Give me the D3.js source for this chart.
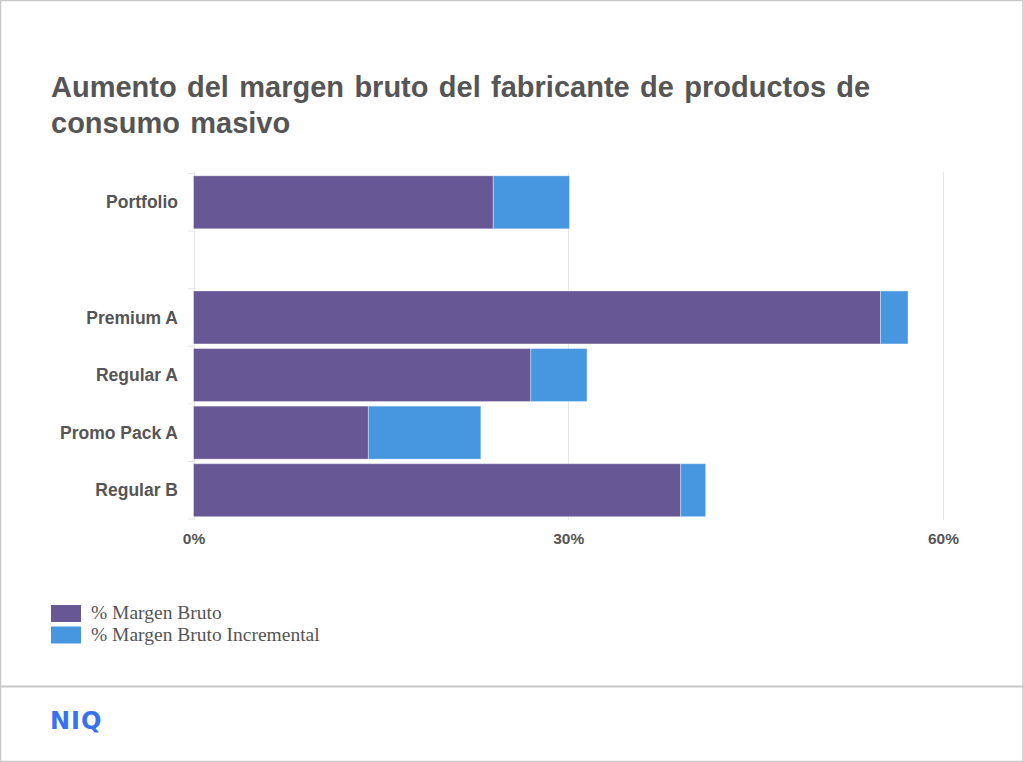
<!DOCTYPE html>
<html>
<head>
<meta charset="utf-8">
<script src="https://cdn.jsdelivr.net/npm/d3@7"></script>
<style>
  html, body { margin: 0; padding: 0; background: #fff; }
  svg { display: block; }
</style>
</head>
<body>
<svg id="chart" width="1024" height="762"></svg>
<script>
const title = ["Aumento del margen bruto del fabricante de productos de", "consumo masivo"];
const categories = ["Portfolio", "", "Premium A", "Regular A", "Promo Pack A", "Regular B"];
const margenBruto = [24, null, 55, 27, 14, 39];
const margenIncremental = [6.1, null, 2.2, 4.5, 9, 2];
const seriesNames = ["% Margen Bruto", "% Margen Bruto Incremental"];
const seriesColors = ["#675794", "#4697e0"];
const xTicks = [0, 30, 60];

const svg = d3.select("#chart");
const W = 1024, H = 762;

// frame
svg.append("rect").attr("x", 0.5).attr("y", 0.5).attr("width", W - 1.5).attr("height", H - 1)
  .attr("fill", "#fff").attr("stroke", "#c8c8c8").attr("stroke-width", 1.5);
svg.append("line").attr("x1", 0).attr("x2", W).attr("y1", 686.5).attr("y2", 686.5)
  .attr("stroke", "#c8c8c8").attr("stroke-width", 2);

// title
const t = svg.append("text").attr("x", 51).attr("y", 97)
  .attr("font-family", "Liberation Sans, Arial, sans-serif")
  .attr("font-weight", "bold").attr("font-size", 29).attr("word-spacing", 2.3).attr("fill", "#555555");
title.forEach((line, i) => {
  t.append("tspan").attr("x", 51).attr("dy", i === 0 ? 0 : 36).text(line);
});

const x = d3.scaleLinear().domain([0, 60]).range([193.5, 943]);
const y = d3.scaleBand().domain(categories.map((c, i) => i)).range([173.5, 519]).paddingInner(0.08).paddingOuter(0.04);

// gridlines
svg.append("g").selectAll("line").data(xTicks).join("line")
  .attr("x1", d => Math.round(x(d)) + 0.5).attr("x2", d => Math.round(x(d)) + 0.5)
  .attr("y1", 172).attr("y2", 520)
  .attr("stroke", "#e6e6e6").attr("stroke-width", 1);

// small category ticks at band boundaries
const bounds = d3.range(categories.length + 1).map(i => 173.5 + i * y.step());
svg.append("g").selectAll("line").data(bounds).join("line")
  .attr("x1", 188).attr("x2", 194)
  .attr("y1", d => d).attr("y2", d => d)
  .attr("stroke", "#e6e6e6");

// bars
const rows = categories.map((c, i) => ({ i, c, a: margenBruto[i], b: margenIncremental[i] })).filter(d => d.a != null);
const g = svg.append("g");
g.selectAll("rect.a").data(rows).join("rect").attr("class", "a")
  .attr("x", x(0)).attr("y", d => y(d.i))
  .attr("width", d => x(d.a) - x(0)).attr("height", y.bandwidth())
  .attr("fill", seriesColors[0]).attr("stroke", "rgba(255,255,255,0.35)").attr("stroke-width", 1);
g.selectAll("rect.b").data(rows).join("rect").attr("class", "b")
  .attr("x", d => x(d.a)).attr("y", d => y(d.i))
  .attr("width", d => x(d.a + d.b) - x(d.a)).attr("height", y.bandwidth())
  .attr("fill", seriesColors[1]).attr("stroke", "rgba(255,255,255,0.35)").attr("stroke-width", 1);

// category labels
svg.append("g").selectAll("text").data(rows).join("text")
  .attr("x", 178).attr("y", d => y(d.i) + y.bandwidth() / 2)
  .attr("dy", "0.35em").attr("text-anchor", "end")
  .attr("font-family", "Liberation Sans, Arial, sans-serif").attr("font-weight", "bold")
  .attr("font-size", 17.5).attr("fill", "#555555")
  .text(d => d.c);

// x axis
const xAxis = svg.append("g").attr("transform", "translate(0,530)")
  .call(d3.axisBottom(x).tickValues(xTicks).tickFormat(d => d + "%").tickSize(0));
xAxis.select(".domain").remove();
xAxis.selectAll("text")
  .attr("font-family", "Liberation Sans, Arial, sans-serif").attr("font-weight", "bold")
  .attr("font-size", 15.5).attr("fill", "#555555").attr("dy", "0.71em").attr("y", 3);

// legend
const lg = svg.append("g");
seriesNames.forEach((name, i) => {
  lg.append("rect").attr("x", 51).attr("y", 605 + i * 21.5).attr("width", 30).attr("height", 17)
    .attr("fill", seriesColors[i]);
  lg.append("text").attr("x", 91).attr("y", 619 + i * 21.5)
    .attr("font-family", "Liberation Serif, Georgia, serif").attr("font-size", 19.5)
    .attr("fill", "#555555").text(name);
});

// logo
svg.append("text").attr("x", 50).attr("y", 729)
  .attr("font-family", "DejaVu Sans, sans-serif").attr("font-weight", "bold")
  .attr("font-size", 24).attr("fill", "#3472ee").attr("letter-spacing", 1).text("NIQ");
</script>
</body>
</html>
